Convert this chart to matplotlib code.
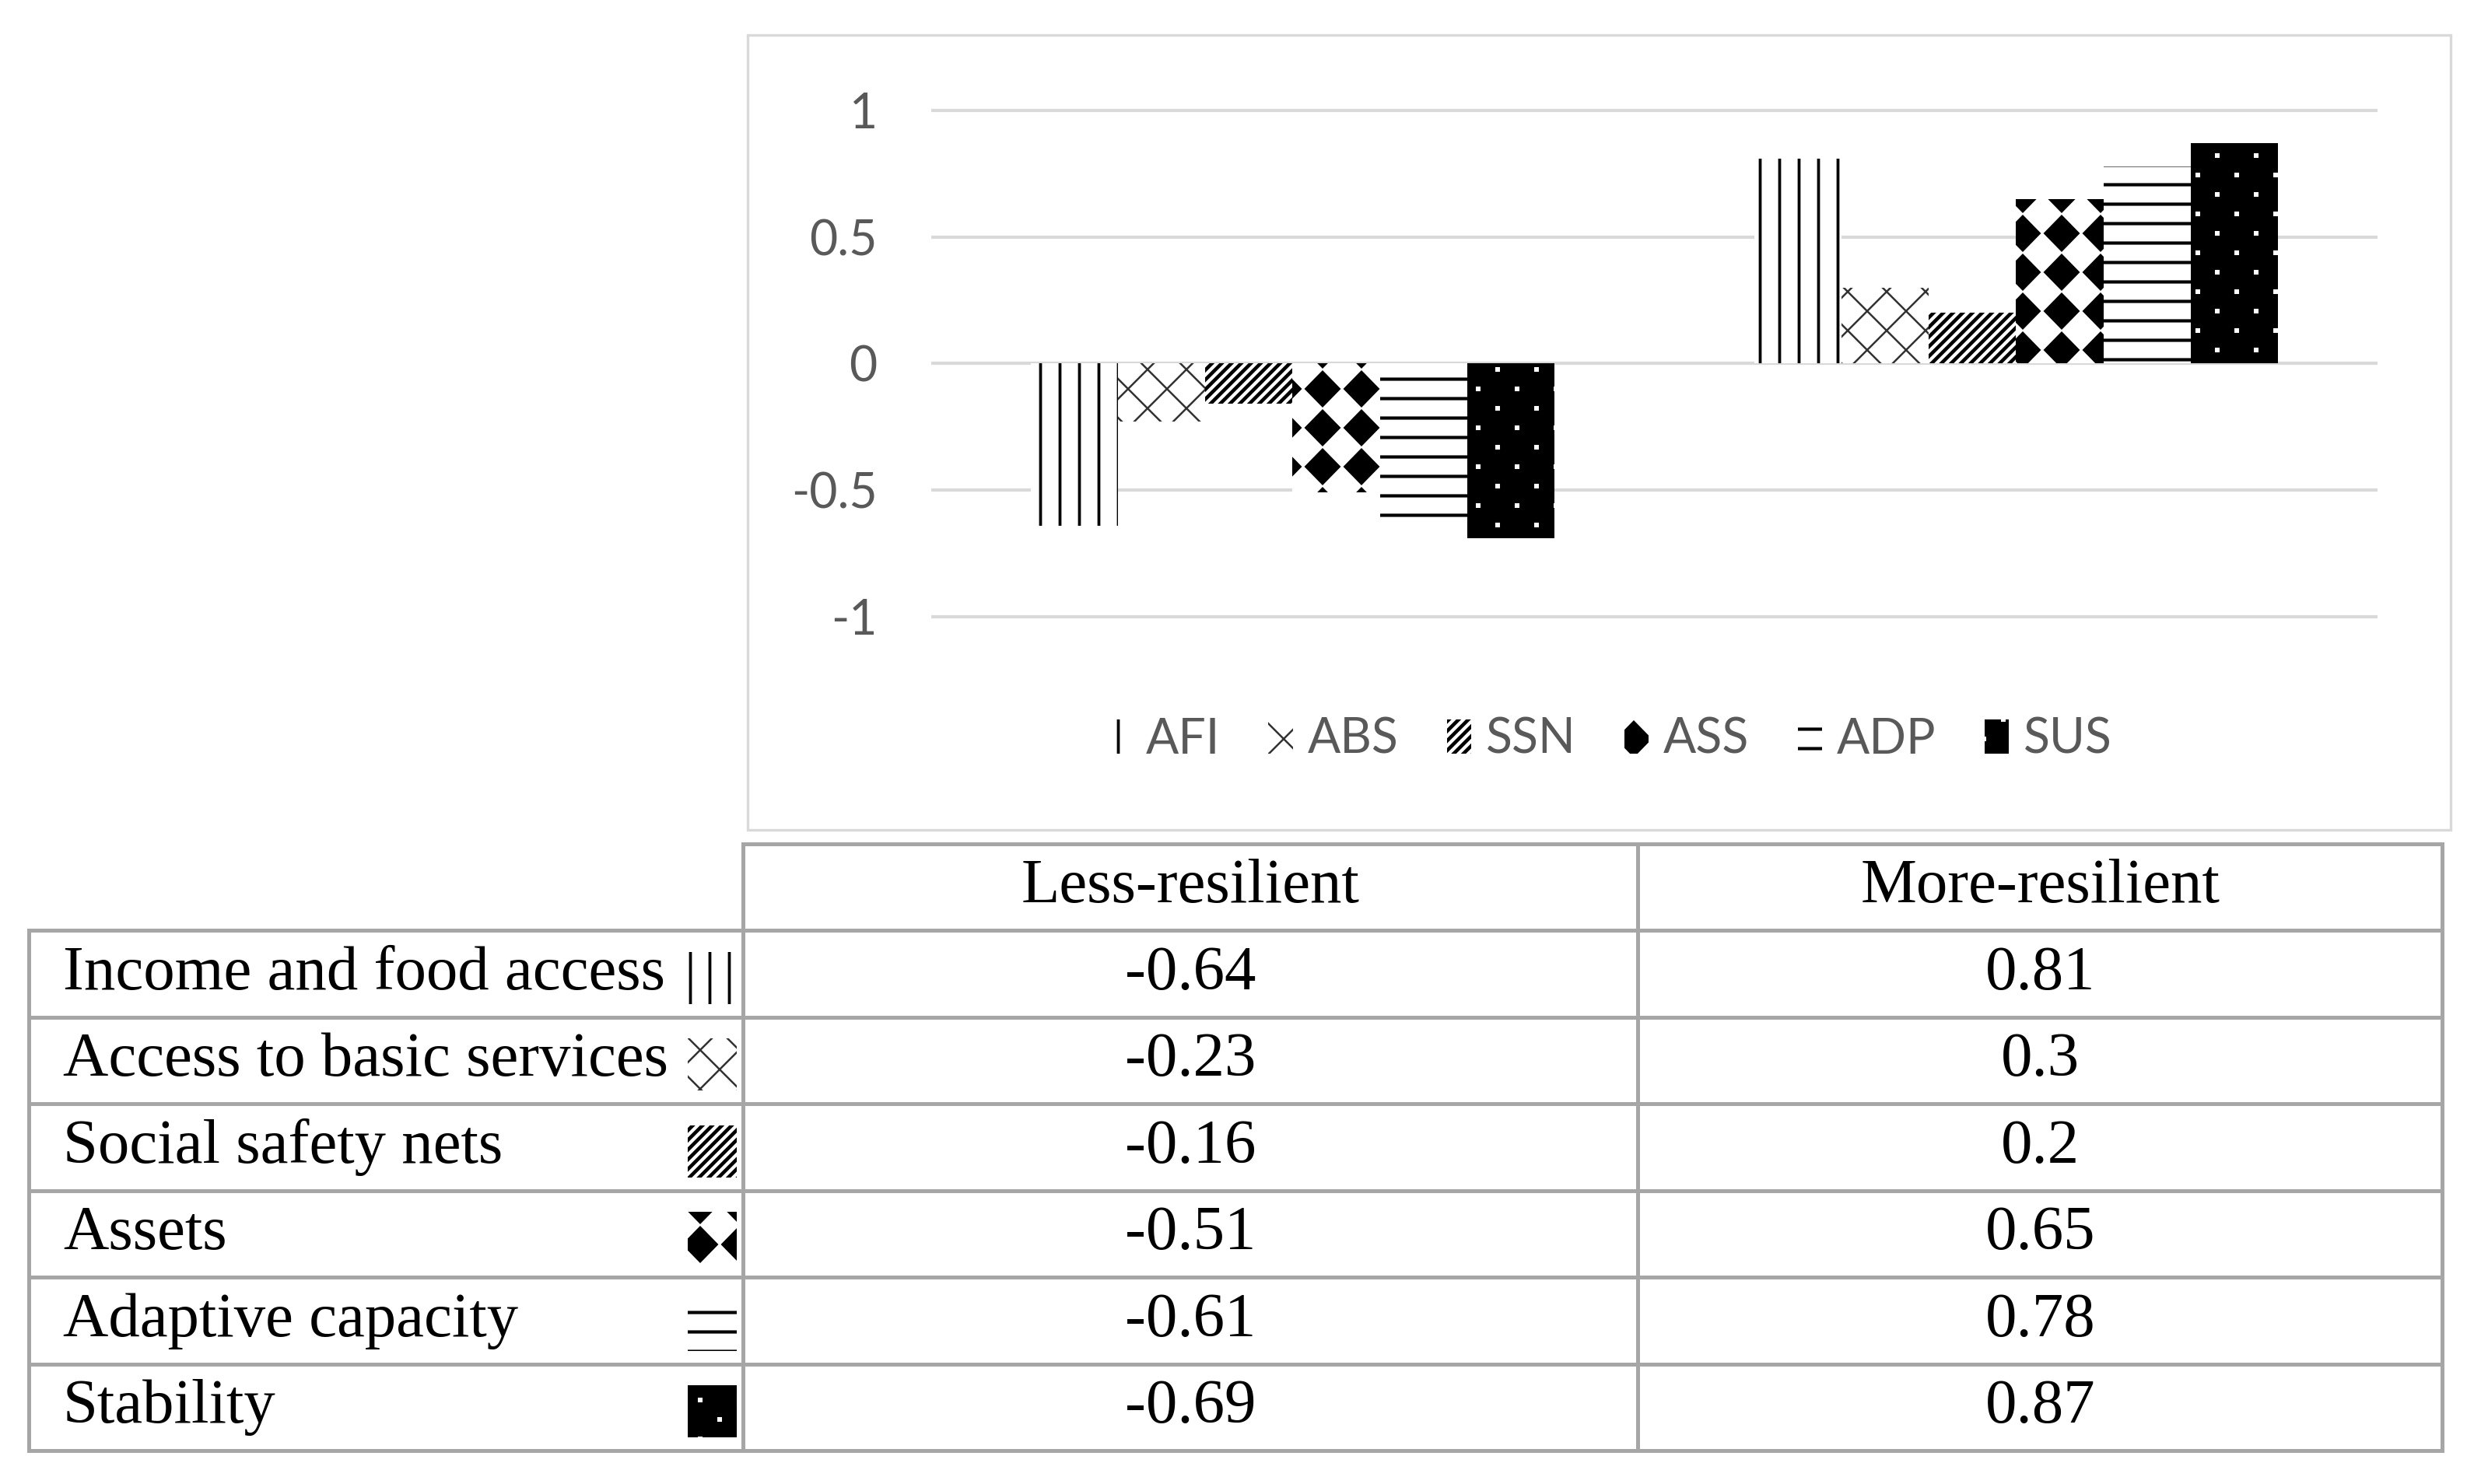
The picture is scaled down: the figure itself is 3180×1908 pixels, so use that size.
import warnings
import numpy as np
import matplotlib
matplotlib.use('Agg')
import matplotlib.pyplot as plt
import matplotlib.hatch as mhatch
from matplotlib.path import Path
from matplotlib.patches import Rectangle

warnings.filterwarnings('ignore')

# data
groups = ['Less-resilient', 'More-resilient']
codes = ['AFI', 'ABS', 'SSN', 'ASS', 'ADP', 'SUS']
names = ['Income and food access', 'Access to basic services', 'Social safety nets',
         'Assets', 'Adaptive capacity', 'Stability']
less_res = [-0.64, -0.23, -0.16, -0.51, -0.61, -0.69]
more_res = [0.81, 0.3, 0.2, 0.65, 0.78, 0.87]
yticks = [-1, -0.5, 0, 0.5, 1]
ytick_labels = ['-1', '-0.5', '0', '0.5', '1']


# extra hatch patterns: 'd' = solid diamonds, 'p' = small staggered dots
class DiamondHatch(mhatch.HatchPatternBase):
    def __init__(self, hatch, density):
        self.n = hatch.count('d') * density
        self.num_vertices = (self.n + 1) ** 2 * 5 if self.n else 0

    def set_vertices_and_codes(self, vertices, codes):
        step = 1.0 / self.n
        hw, hh = 0.44 * step, 0.45 * step
        shape = np.array([[0, hh], [hw, 0], [0, -hh], [-hw, 0], [0, hh]])
        parts = [shape + [c * step, r * step]
                 for r in range(self.n + 1) for c in range(self.n + 1)]
        np.concatenate(parts, out=vertices)
        one = [Path.MOVETO, Path.LINETO, Path.LINETO, Path.LINETO, Path.CLOSEPOLY]
        codes[:] = np.tile(one, (self.n + 1) ** 2)


class DotHatch(mhatch.HatchPatternBase):
    def __init__(self, hatch, density):
        self.n = hatch.count('p') * density
        self.pts = []
        if self.n:
            sx, sy = 1.0 / self.n, 0.5 / self.n
            for r in range(2 * self.n + 1):
                if r % 2 == 0:
                    xs = [c * sx for c in range(self.n + 1)]
                else:
                    xs = [(c + 0.5) * sx for c in range(self.n)]
                self.pts += [(xx, r * sy) for xx in xs]
        self.num_vertices = len(self.pts) * 5

    def set_vertices_and_codes(self, vertices, codes):
        h = 0.008
        shape = np.array([[-h, -h], [h, -h], [h, h], [-h, h], [-h, -h]])
        parts = [shape + p for p in self.pts]
        np.concatenate(parts, out=vertices)
        one = [Path.MOVETO, Path.LINETO, Path.LINETO, Path.LINETO, Path.CLOSEPOLY]
        codes[:] = np.tile(one, len(self.pts))


mhatch._hatch_types.extend([DiamondHatch, DotHatch])

# hatch, face, hatch colour, hatch linewidth
styles = [
    ('||', 'white', 'black', 0.9),
    ('xx', 'white', '#333333', 0.6),
    ('////////', 'white', 'black', 1.1),
    ('d', 'white', 'black', 0.5),
    ('--', 'white', 'black', 1.0),
    ('p', 'black', 'white', 0.3),
]

W, H = 1568, 941  # layout grid (reference pixels / 2)
fig = plt.figure(figsize=(10.6, 6.36), dpi=300)

# overlay for frame + table
ov = fig.add_axes([0, 0, 1, 1])
ov.set_xlim(0, W)
ov.set_ylim(H, 0)
ov.axis('off')

ax = fig.add_axes([590 / W, 1 - 399 / H, (1507 - 590) / W, (399 - 62) / H])
x = np.arange(len(groups))
w = 0.1207
for i, code in enumerate(codes):
    hatch, face, hcol, hlw = styles[i]
    with plt.rc_context({'hatch.linewidth': hlw}):
        bars = ax.bar(x + (i - 2.5) * w, [less_res[i], more_res[i]], w,
                      facecolor=face, edgecolor=hcol, linewidth=0,
                      hatch=hatch, label=code, zorder=3)
    for b in bars:
        if hasattr(b, 'set_hatch_linewidth'):
            b.set_hatch_linewidth(hlw)

ax.set_xlim(-0.5, 1.5)
ax.set_ylim(-1.05, 1.05)
ax.set_yticks(yticks)
ax.set_yticklabels(ytick_labels, fontfamily='Lato', fontsize=15, color='#595959')
ax.set_xticks([])
ax.tick_params(axis='y', length=0, pad=16.5)
ax.yaxis.grid(True, color='#d9d9d9', linewidth=1.0)
ax.set_axisbelow(True)
for s in ax.spines.values():
    s.set_visible(False)
ax.patch.set_alpha(0)

leg = ax.legend(loc='center', bbox_to_anchor=(1020 / W, 1 - 469 / H),
                bbox_transform=fig.transFigure, ncol=6, frameon=False,
                prop={'family': 'Lato', 'size': 15}, labelcolor='#595959',
                handlelength=0.5, handleheight=0.7, handletextpad=0.3,
                columnspacing=1.0)
for h, st in zip(leg.legend_handles, styles):
    if hasattr(h, 'set_hatch_linewidth'):
        h.set_hatch_linewidth(st[3])

# chart frame
ov.add_patch(Rectangle((474, 22), 1553 - 474, 526 - 22, fill=False,
                       edgecolor='#d9d9d9', linewidth=0.8))

# table
lc = '#a6a6a6'
tlw = 1.2
x0, x1, x2, x3 = 18, 471, 1038, 1548
y_head, y_top = 535, 590
rh = 55
y_bot = y_top + rh * len(names)
ov.plot([x1, x3], [y_head, y_head], color=lc, lw=tlw)
for k in range(len(names) + 1):
    yy = y_top + k * rh
    ov.plot([x0, x3], [yy, yy], color=lc, lw=tlw)
ov.plot([x0, x0], [y_top, y_bot], color=lc, lw=tlw)
for xx in (x1, x2, x3):
    ov.plot([xx, xx], [y_head, y_bot], color=lc, lw=tlw)

serif = {'family': 'Liberation Serif', 'size': 19.4, 'color': 'black'}
c1, c2 = (x1 + x2) / 2, (x2 + x3) / 2
ov.text(c1, (y_head + y_top) / 2, groups[0], ha='center', va='center', **serif)
ov.text(c2, (y_head + y_top) / 2, groups[1], ha='center', va='center', **serif)
for k, name in enumerate(names):
    yc = y_top + (k + 0.5) * rh
    ov.text(40, yc, name, ha='left', va='center', **serif)
    ov.text(c1, yc, f'{less_res[k]:g}', ha='center', va='center', **serif)
    ov.text(c2, yc, f'{more_res[k]:g}', ha='center', va='center', **serif)
    hatch, face, hcol, hlw = styles[k]
    with plt.rc_context({'hatch.linewidth': hlw}):
        icon = Rectangle((436, yc - 14), 31, 33, facecolor=face, edgecolor=hcol,
                         linewidth=0, hatch=hatch)
    if hasattr(icon, 'set_hatch_linewidth'):
        icon.set_hatch_linewidth(hlw)
    ov.add_patch(icon)

fig.savefig('out.png', dpi=300)
